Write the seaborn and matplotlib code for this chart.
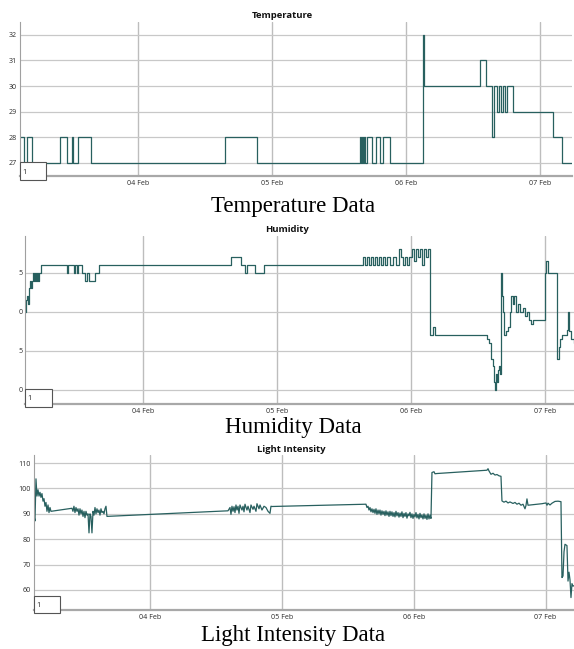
"""
Sensor dashboard - temperature, humidity and light intensity
"""

import pandas as pd
import matplotlib
matplotlib.use('Agg')
import matplotlib.pyplot as plt
import matplotlib.dates as mdates
from matplotlib.patches import Rectangle
import seaborn as sns

START = pd.Timestamp('2024-02-03')

# Temperature (hours since 03 Feb 00:00, step values)
temp_hours = [2.87, 3.58, 4.12, 5.02, 10.03, 11.28, 12.18, 12.36, 13.25, 15.58,
              39.58, 45.31, 63.76, 63.94, 64.12, 64.30, 64.48, 64.66, 65.01, 65.91,
              66.63, 67.34, 67.88, 69.13, 75.04, 75.22, 85.25, 86.33, 87.40, 87.76,
              88.30, 88.66, 89.01, 89.37, 89.73, 90.09, 91.16, 98.33, 99.94, 101.73]
temp_values = [28, 27, 28, 27, 28, 27, 28, 27, 28, 27,
               28, 27, 28, 27, 28, 27, 28, 27, 28, 27,
               28, 27, 28, 27, 32, 30, 31, 30, 28, 30,
               29, 30, 29, 30, 29, 30, 29, 28, 27, 27]
temp_ticks = [27, 28, 29, 30, 31, 32]
temp_tick_labels = ['27', '28', '29', '30', '31', '32']

# Humidity
hum_hours = [2.87, 3.05, 3.22, 3.40, 3.58, 3.76, 3.94, 4.12, 4.30, 4.48,
             4.66, 4.84, 5.02, 5.19, 5.37, 5.73,
             10.39, 10.57, 11.64, 11.82, 12.18, 12.36, 13.07, 13.61, 13.97, 14.33, 15.40, 16.12,
             39.76, 41.55, 42.27, 42.63, 44.06, 45.67,
             63.40, 63.76, 64.12, 64.48, 64.84, 65.19, 65.55, 65.91, 66.27, 66.63, 66.98, 67.34, 67.70, 68.24, 68.77, 69.31,
             69.85, 70.21, 70.57, 70.92, 71.28, 71.64, 72.18, 72.54, 72.89, 73.25, 73.61, 73.97, 74.33, 74.68, 75.04,
             75.40, 75.94, 76.30,
             85.61, 85.97, 86.33, 86.69, 86.86, 87.04, 87.22, 87.40, 87.58, 87.76, 87.94,
             88.12, 88.30, 88.48, 88.65, 89.01, 89.37, 89.73, 89.91, 90.27, 90.45, 90.81, 91.16, 91.52, 92.06, 92.42, 92.77, 93.13, 93.49, 93.85,
             96.00, 96.18, 96.54, 98.15, 98.42, 98.68, 99.04, 99.94, 100.12, 100.30, 100.66, 101.19]
hum_values = [60, 61.5, 62, 61, 63, 64, 63, 64, 65, 64,
              65, 64, 65, 64, 65, 66,
              65, 66, 65, 66, 65, 66, 65, 64, 65, 64, 65, 66,
              67, 66, 65, 66, 65, 66,
              67, 66, 67, 66, 67, 66, 67, 66, 67, 66, 67, 66, 67, 66, 67, 66,
              68, 67, 66, 67, 66, 67, 68, 66.5, 68, 67, 68, 66, 68, 67, 68,
              57, 58, 57,
              56.5, 56, 54, 53, 51, 50, 52, 51, 52.5, 53, 52,
              65, 62, 60, 57, 57.5, 58, 60, 62, 61, 62, 60, 61, 60, 60.5, 59.5, 60, 59, 58.5, 59,
              65, 66.5, 65, 54, 55.5, 56.5, 57, 57.7, 60, 57.5, 56.5, 56]
hum_ticks = [50, 55, 60, 65]
hum_tick_labels = ['0', '5', '0', '5']   # left digit cut off in the screenshot

# Light intensity
light_hours = [2.89, 3.07, 3.25, 3.43, 3.62, 3.80, 3.98, 4.16, 4.34, 4.53,
               4.71, 4.89, 5.07, 5.25, 5.44, 5.62, 5.80, 5.98,
               9.80, 9.98, 10.16, 10.35, 10.53, 10.71, 10.90, 11.08, 11.26, 11.44,
               11.62, 11.81, 11.99, 12.17, 12.35, 12.53, 12.72, 12.90, 13.08, 13.26,
               13.44, 13.63, 13.81, 13.99, 14.17, 14.35, 14.54, 14.72, 14.90, 15.08,
               15.26, 15.45, 15.63, 15.81, 15.99, 16.17,
               38.20, 38.56, 38.74, 38.92, 39.11, 39.29, 39.47, 39.65, 39.83, 40.02,
               40.20, 40.38, 40.74, 40.93, 41.11, 41.29, 41.65, 41.84, 42.20, 42.38,
               42.75, 42.93, 43.29, 43.47, 43.84, 44.02, 44.38, 44.75, 45.11, 45.48,
               45.84, 46.02, 46.20,
               63.31, 63.49, 63.68, 63.86, 64.04, 64.22, 64.40, 64.59, 64.77, 64.95,
               65.13, 65.31, 65.50, 65.68, 65.86, 66.04, 66.22, 66.41, 66.59, 66.77,
               66.95, 67.13, 67.32, 67.50, 67.68, 67.86, 68.04, 68.23, 68.41, 68.59,
               68.77, 68.95, 69.14, 69.32, 69.50, 69.68, 69.86, 70.05, 70.23, 70.41,
               70.59, 70.77, 70.96, 71.14, 71.32, 71.50, 71.68, 71.87, 72.05, 72.23,
               72.41, 72.59, 72.78, 72.96, 73.14, 73.32, 73.50, 73.69, 73.87, 74.05,
               74.23, 74.41, 74.60, 74.78, 74.96, 75.14,
               75.32, 75.69, 75.87, 76.23,
               85.33, 85.52, 85.70, 86.06, 86.43, 86.79, 87.15, 87.52, 87.88,
               88.06, 88.43, 88.79, 89.16, 89.52, 90.07, 90.43, 90.79, 91.16, 91.52,
               91.89, 92.25, 92.43, 92.61, 92.80, 94.07, 95.34, 96.07, 96.25, 96.44,
               96.80, 97.16, 97.71, 98.26, 98.80, 98.98, 99.17, 99.35, 99.53, 99.89,
               100.08, 100.26, 100.44, 100.62, 100.80, 100.99, 101.17]
light_values = [89.2, 87.2, 103.8, 97, 99.5, 97, 98.5, 96.5, 98, 95,
                96, 93, 94.5, 91, 93.5, 90.5, 92.5, 91,
                92.2, 91, 93, 90.5, 92.5, 91, 92, 89.5, 92, 90,
                91.5, 89, 91, 88.5, 91, 89.5, 90, 82.5, 90, 89,
                82.5, 91, 89.5, 92.5, 90, 92, 90.5, 91.5, 89.5, 92,
                90.5, 91, 90, 92, 93, 89,
                91.2, 92.5, 89.8, 93, 91, 92.8, 90.5, 93.5, 91.5, 93,
                90.2, 93.5, 91.5, 93, 90.8, 93.8, 91.5, 93, 90.5, 93.5,
                91.8, 93, 91, 94, 92, 93.5, 91.5, 93, 92.5, 91,
                90.2, 93, 92.9,
                93.8, 92.5, 93, 91.5, 92.5, 90.8, 92, 90.5, 91.8, 90.2,
                92, 89.8, 91.5, 90, 91.5, 89.5, 91.2, 89.8, 91, 89.3,
                91.2, 89.5, 90.8, 89, 91, 89.3, 90.8, 89, 90.5, 88.8,
                91, 89.2, 90.5, 88.7, 90.3, 89, 90.8, 88.5, 90.2, 89,
                90.5, 88.3, 90, 89.2, 90.6, 88.5, 90, 88.2, 89.8, 88.8,
                90.5, 88.4, 89.8, 88, 90.2, 88.5, 89.6, 88, 90, 88.2,
                89.5, 87.8, 90, 88, 89.5, 88.2,
                106.3, 106.6, 105.8, 105.9,
                107.2, 107.8, 106.9, 105.6, 106, 105.3, 105.5, 105, 104.8,
                95.1, 94.6, 95, 94.3, 94.7, 94.1, 94.5, 93.8, 94.2, 93.4,
                93.8, 92, 93.3, 95.9, 93.4, 93.7, 94, 94.3, 93.4, 94.2,
                93.5, 94.2, 94.9, 95, 94.8, 64.9, 65.5, 75, 78, 77.5,
                63.5, 67, 64, 57, 62.5, 61.5, 61.7]
light_ticks = [60, 70, 80, 90, 100, 110]
light_tick_labels = ['60', '70', '80', '90', '100', '110']

W, H = 574, 649
LINE = '#28605f'


def to_time(hours):
    return START + pd.to_timedelta(hours, unit='h')


def fig_rect(x0, y0, x1, y1):
    """pixel box (top-left origin) -> figure fraction rect"""
    return [x0 / W, 1 - y1 / H, (x1 - x0) / W, (y1 - y0) / H]


def draw_panel(fig, box, hours, values, steps, xlim, ylim, ticks, labels,
               title, title_xy, caption_y, legend_box, ypad):
    ax = fig.add_axes(fig_rect(*box))
    df = pd.DataFrame({'time': to_time(hours), 'value': values})
    sns.lineplot(data=df, x='time', y='value', ax=ax, color=LINE, linewidth=0.9,
                 estimator=None, drawstyle='steps-post' if steps else 'default')

    ax.set_xlim(to_time(xlim[0]), to_time(xlim[1]))
    ax.set_ylim(*ylim)
    ax.set_yticks(ticks)
    ax.set_yticklabels(labels)
    ax.xaxis.set_major_locator(mdates.DayLocator())
    ax.xaxis.set_major_formatter(mdates.DateFormatter('%d %b'))
    ax.set_xlabel('')
    ax.set_ylabel('')

    ax.grid(True, color='#c8c8c8', linewidth=0.9)
    ax.xaxis.grid(True, color='#bdbdbd', linewidth=1.0)
    for side in ['top', 'right']:
        ax.spines[side].set_visible(False)
    ax.spines['left'].set_color('#a0a0a0')
    ax.spines['left'].set_linewidth(0.8)
    ax.spines['bottom'].set_color('#a8a8a8')
    ax.spines['bottom'].set_linewidth(1.6)
    ax.tick_params(axis='both', length=0, labelsize=5.1, colors='#2a2a2a')
    ax.tick_params(axis='x', pad=3.2)
    ax.tick_params(axis='y', pad=ypad)

    # little "1" box in the lower-left corner
    x0, y0, x1, y1 = legend_box
    fig.add_artist(Rectangle((x0 / W, 1 - y1 / H), (x1 - x0) / W, (y1 - y0) / H,
                             transform=fig.transFigure, facecolor='white',
                             edgecolor='#555555', linewidth=0.8, zorder=5))
    fig.text((x0 + 2) / W, 1 - ((y0 + y1) / 2 + 1) / H, '1', fontsize=5.2,
             color='#222222', va='center', ha='left', zorder=6)

    fig.text(title_xy[0] / W, 1 - title_xy[1] / H, title, ha='center', va='center',
             fontsize=6.8, fontweight='bold', family='Open Sans', color='#111111')
    fig.text(293 / W, 1 - caption_y / H, title + ' Data', ha='center', va='baseline',
             fontsize=16.5, family='Liberation Serif', color='black')
    return ax


def main():
    sns.set_theme(style='whitegrid')
    plt.rcParams['font.family'] = ['Open Sans', 'DejaVu Sans']

    fig = plt.figure(figsize=(W / 100, H / 100), dpi=100)

    draw_panel(fig, (20, 22, 572, 176), temp_hours, temp_values, True,
               (2.87, 101.73), (26.49, 32.5), temp_ticks, temp_tick_labels,
               'Temperature', (282, 15.5), 212, (20, 162, 46, 180), 2.0)
    draw_panel(fig, (25, 236, 574, 404), hum_hours, hum_values, True,
               (2.87, 101.19), (48.2, 69.7), hum_ticks, hum_tick_labels,
               'Humidity', (287, 229), 433, (25, 389, 52, 407), 1.5)
    draw_panel(fig, (34, 455, 574, 610), light_hours, light_values, False,
               (2.89, 101.17), (52.1, 113.2), light_ticks, light_tick_labels,
               'Light Intensity', (291, 449), 641, (34, 596, 60, 613), 2.2)

    fig.savefig('out.png', dpi=100, facecolor='white')
    plt.close(fig)


if __name__ == "__main__":
    main()
